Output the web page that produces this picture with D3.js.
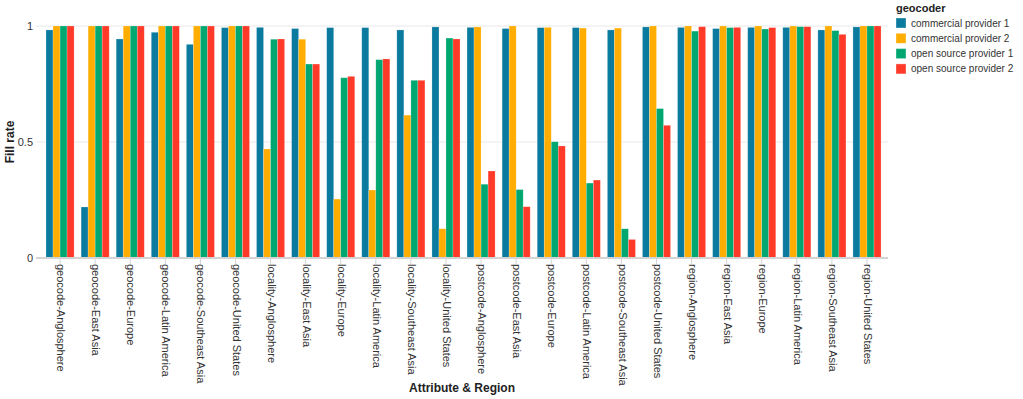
<!DOCTYPE html>
<html>
<head>
<meta charset="utf-8">
<script src="https://cdn.jsdelivr.net/npm/d3@7"></script>
<style>
  body { margin: 0; background: #fff; }
  svg { font-family: "Liberation Sans", Arial, sans-serif; }
</style>
</head>
<body>
<div id="chart"></div>
<script>
// categories (attribute-region) along x
const categories = [
  "geocode-Anglosphere", "geocode-East Asia", "geocode-Europe", "geocode-Latin America",
  "geocode-Southeast Asia", "geocode-United States",
  "locality-Anglosphere", "locality-East Asia", "locality-Europe", "locality-Latin America",
  "locality-Southeast Asia", "locality-United States",
  "postcode-Anglosphere", "postcode-East Asia", "postcode-Europe", "postcode-Latin America",
  "postcode-Southeast Asia", "postcode-United States",
  "region-Anglosphere", "region-East Asia", "region-Europe", "region-Latin America",
  "region-Southeast Asia", "region-United States"
];

const providers = ["commercial provider 1", "commercial provider 2", "open source provider 1", "open source provider 2"];

// fill rates per provider, one value per category
const commercial1 = [0.983, 0.22, 0.944, 0.973, 0.921, 0.993,
                     0.994, 0.989, 0.993, 0.993, 0.983, 0.996,
                     0.994, 0.989, 0.993, 0.993, 0.983, 0.996,
                     0.994, 0.989, 0.994, 0.994, 0.983, 0.996];
const commercial2 = [1, 1, 1, 1, 1, 1,
                     0.47, 0.943, 0.254, 0.293, 0.616, 0.126,
                     0.996, 1, 0.994, 0.991, 0.991, 1,
                     1, 1, 1, 1, 1, 1];
const openSource1 = [1, 1, 1, 1, 1, 1,
                     0.943, 0.836, 0.777, 0.855, 0.766, 0.948,
                     0.318, 0.295, 0.501, 0.323, 0.126, 0.644,
                     0.978, 0.993, 0.987, 0.997, 0.98, 1];
const openSource2 = [1, 1, 1, 1, 1, 1,
                     0.944, 0.836, 0.783, 0.858, 0.766, 0.944,
                     0.375, 0.221, 0.483, 0.336, 0.08, 0.572,
                     0.997, 0.994, 0.993, 0.997, 0.964, 1];

const yTicks = [0, 0.5, 1];
const colors = ["#0b7a9f", "#ffad00", "#00a771", "#ff3a29"];

const series = [commercial1, commercial2, openSource1, openSource2];
const rows = [];
categories.forEach(function(c, i) {
  providers.forEach(function(p, j) {
    rows.push({ category: c, provider: p, value: series[j][i] });
  });
});

const width = 1023, height = 399;
const plot = { left: 36, right: 888, top: 26, bottom: 258 };

const svg = d3.select("#chart").append("svg")
  .attr("width", width)
  .attr("height", height);

const x = d3.scaleBand()
  .domain(categories)
  .range([plot.left, plot.right])
  .paddingInner(0.2)
  .paddingOuter(0.242)
  .align(0.59);

const xInner = d3.scaleBand()
  .domain(providers)
  .range([0, x.bandwidth()]);

const y = d3.scaleLinear()
  .domain([0, 1])
  .range([plot.bottom, plot.top]);

const color = d3.scaleOrdinal().domain(providers).range(colors);

// grid lines
svg.append("g")
  .selectAll("line")
  .data(yTicks.filter(function(d) { return d > 0; }))
  .join("line")
  .attr("x1", plot.left)
  .attr("x2", plot.right)
  .attr("y1", function(d) { return y(d); })
  .attr("y2", function(d) { return y(d); })
  .attr("stroke", "#e8e8e8")
  .attr("stroke-width", 1);

// y axis (labels only)
const gy = svg.append("g")
  .attr("transform", "translate(" + plot.left + ",0)")
  .call(d3.axisLeft(y).tickValues(yTicks).tickFormat(d3.format("~g")).tickSize(0).tickPadding(3));
gy.select(".domain").remove();
gy.selectAll("text").attr("font-size", 11).attr("fill", "#333");

// bars
svg.append("g")
  .selectAll("rect")
  .data(rows)
  .join("rect")
  .attr("x", function(d) { return x(d.category) + xInner(d.provider); })
  .attr("y", function(d) { return y(d.value); })
  .attr("width", xInner.bandwidth())
  .attr("height", function(d) { return y(0) - y(d.value); })
  .attr("fill", function(d) { return color(d.provider); })
  .attr("stroke", "#fff")
  .attr("stroke-opacity", 0.35)
  .attr("stroke-width", 0.6);

// x axis
const gx = svg.append("g")
  .attr("transform", "translate(0," + plot.bottom + ")")
  .call(d3.axisBottom(x).tickSizeInner(5).tickSizeOuter(0).tickPadding(3));
gx.select(".domain").attr("stroke", "#d4d4d4").attr("stroke-width", 2)
  .attr("d", "M" + plot.left + ",0H" + plot.right);
gx.selectAll(".tick line").attr("stroke", "#d4d4d4").attr("transform", "translate(0,1)");
gx.selectAll(".tick text")
  .attr("font-size", 11)
  .attr("fill", "#333")
  .attr("text-anchor", "start")
  .attr("dominant-baseline", "middle")
  .attr("dy", null)
  .attr("transform", "translate(0,6) rotate(90)")
  .attr("x", 0)
  .attr("y", 0);

// axis titles
svg.append("text")
  .attr("x", (plot.left + plot.right) / 2)
  .attr("y", 392)
  .attr("text-anchor", "middle")
  .attr("font-size", 12)
  .attr("font-weight", "bold")
  .attr("fill", "#222")
  .text("Attribute & Region");

svg.append("text")
  .attr("transform", "translate(14," + ((plot.top + plot.bottom) / 2) + ") rotate(-90)")
  .attr("text-anchor", "middle")
  .attr("font-size", 12)
  .attr("font-weight", "bold")
  .attr("fill", "#222")
  .text("Fill rate");

// legend
const legend = svg.append("g").attr("transform", "translate(896,0)");
legend.append("text")
  .attr("x", 0)
  .attr("y", 12)
  .attr("font-size", 11)
  .attr("font-weight", "bold")
  .attr("fill", "#222")
  .text("geocoder");

const item = legend.selectAll(".item")
  .data(providers)
  .join("g")
  .attr("class", "item")
  .attr("transform", function(d, i) { return "translate(0," + (23 + i * 15.3) + ")"; });

item.append("rect")
  .attr("x", 0)
  .attr("y", -5)
  .attr("width", 10)
  .attr("height", 10)
  .attr("fill", function(d) { return color(d); })
  .attr("stroke", "#fff")
  .attr("stroke-opacity", 0.35);

item.append("text")
  .attr("x", 15)
  .attr("y", 0)
  .attr("dy", "0.35em")
  .attr("font-size", 10)
  .attr("fill", "#333")
  .text(function(d) { return d; });
</script>
</body>
</html>
